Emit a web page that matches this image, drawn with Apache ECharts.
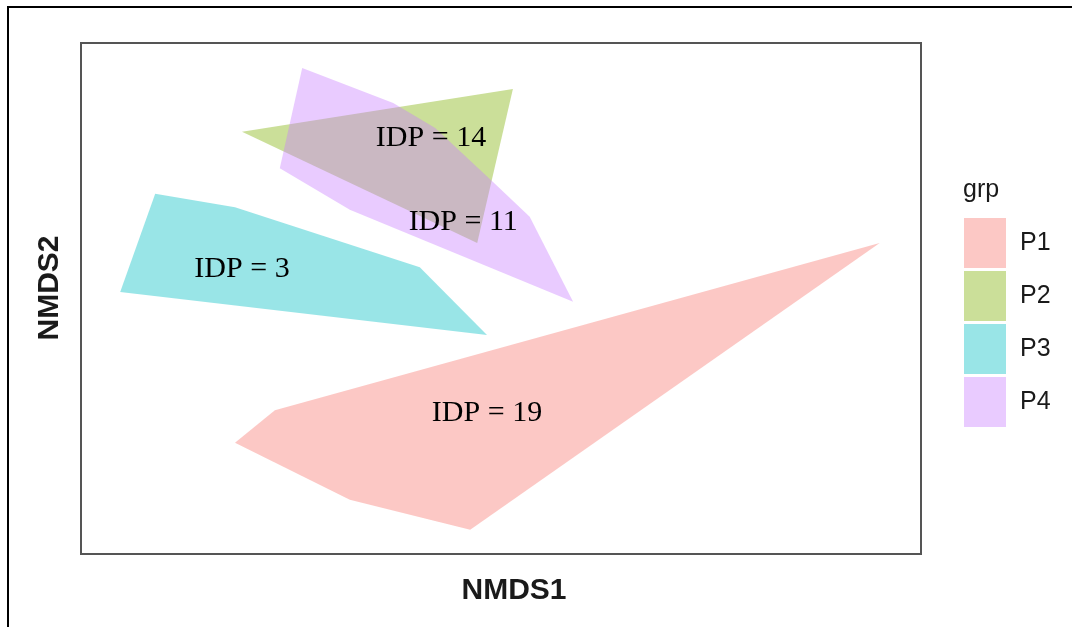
<!DOCTYPE html>
<html>
<head>
<meta charset="utf-8">
<title>NMDS hulls</title>
<script src="https://cdn.jsdelivr.net/npm/echarts@6/dist/echarts.min.js"></script>
<style>
  html, body { margin: 0; padding: 0; background: #fff; }
  #chart { width: 1072px; height: 627px; }
</style>
</head>
<body>
<div id="chart"></div>
<script>
// Group names shown in the legend
const groups = ['P1', 'P2', 'P3', 'P4'];

// Convex hull vertices of each group in NMDS space: [NMDS1, NMDS2]
const hullP1 = [[-0.380, -0.226], [-0.323, -0.175], [0.541, 0.087], [-0.044, -0.362], [-0.216, -0.315]];
const hullP2 = [[-0.370, 0.261], [0.017, 0.328], [-0.034, 0.087]];
const hullP3 = [[-0.494, 0.164], [-0.380, 0.143], [-0.116, 0.049], [-0.020, -0.057], [-0.544, 0.010]];
const hullP4 = [[-0.284, 0.361], [-0.154, 0.306], [-0.094, 0.267], [-0.011, 0.182], [0.041, 0.128],
                [0.103, -0.005], [-0.216, 0.139], [-0.316, 0.204]];

// Annotation text and its anchor in NMDS space
const idpText = ['IDP = 19', 'IDP = 14', 'IDP = 3', 'IDP = 11'];
const idpPos = [[-0.020, -0.179], [-0.100, 0.251], [-0.370, 0.046], [-0.054, 0.120]];

const hulls = [hullP1, hullP2, hullP3, hullP4];
const fills = ['rgba(248,118,109,0.4)', 'rgba(124,174,0,0.4)', 'rgba(0,191,196,0.4)', 'rgba(199,124,255,0.4)'];

const chart = echarts.init(document.getElementById('chart'), null, { renderer: 'canvas' });

// One filled polygon per group, drawn from its hull vertices
function hullSeries(name, pts, color) {
  return {
    name: name,
    type: 'custom',
    coordinateSystem: 'cartesian2d',
    data: pts,
    itemStyle: { color: color },
    silent: true,
    renderItem: function (params, api) {
      if (params.dataIndex !== 0) return null;
      const points = pts.map(p => api.coord(p));
      return {
        type: 'polygon',
        shape: { points: points },
        style: { fill: color, stroke: 'none' }
      };
    }
  };
}

const series = groups.map((g, i) => hullSeries(g, hulls[i], fills[i]));

// IDP annotations placed on top of the hulls
series.push({
  name: 'idp',
  type: 'custom',
  coordinateSystem: 'cartesian2d',
  data: idpPos.map((p, i) => [p[0], p[1], i]),
  z: 10,
  silent: true,
  renderItem: function (params, api) {
    const c = api.coord([api.value(0), api.value(1)]);
    return {
      type: 'text',
      x: c[0],
      y: c[1],
      style: {
        text: idpText[api.value(2)],
        font: '30px "Liberation Serif", "Times New Roman", serif',
        fill: '#000',
        align: 'center',
        verticalAlign: 'middle'
      }
    };
  }
});

chart.setOption({
  animation: false,
  backgroundColor: '#fff',
  grid: {
    left: 81, top: 43, right: 151, bottom: 73,
    show: true, borderColor: '#555', borderWidth: 2, backgroundColor: 'transparent'
  },
  xAxis: {
    type: 'value', min: -0.6, max: 0.6,
    axisLine: { show: false }, axisTick: { show: false },
    axisLabel: { show: false }, splitLine: { show: false }
  },
  yAxis: {
    type: 'value', min: -0.4, max: 0.4,
    axisLine: { show: false }, axisTick: { show: false },
    axisLabel: { show: false }, splitLine: { show: false }
  },
  legend: {
    data: groups,
    orient: 'vertical',
    left: 964, top: 218,
    padding: 0,
    itemWidth: 42, itemHeight: 50, itemGap: 3,
    icon: 'rect',
    selectedMode: false,
    textStyle: {
      fontSize: 25, color: '#1a1a1a',
      fontFamily: '"Liberation Sans", Arial, sans-serif',
      padding: [8, 0, 0, 9]
    }
  },
  graphic: [
    {
      type: 'rect', silent: true,
      shape: { x: 8, y: 7, width: 1200, height: 800 },
      style: { fill: 'none', stroke: '#000', lineWidth: 2 }
    },
    {
      type: 'text', silent: true, x: 514, y: 591,
      style: {
        text: 'NMDS1', fill: '#1a1a1a', align: 'center', verticalAlign: 'middle',
        font: 'bold 30px "Liberation Sans", Arial, sans-serif'
      }
    },
    {
      type: 'text', silent: true, x: 50, y: 288, rotation: Math.PI / 2,
      style: {
        text: 'NMDS2', fill: '#1a1a1a', align: 'center', verticalAlign: 'middle',
        font: 'bold 30px "Liberation Sans", Arial, sans-serif'
      }
    },
    {
      type: 'text', silent: true, x: 963, y: 190,
      style: {
        text: 'grp', fill: '#1a1a1a', align: 'left', verticalAlign: 'middle',
        font: '25px "Liberation Sans", Arial, sans-serif'
      }
    }
  ],
  series: series
});
</script>
</body>
</html>
